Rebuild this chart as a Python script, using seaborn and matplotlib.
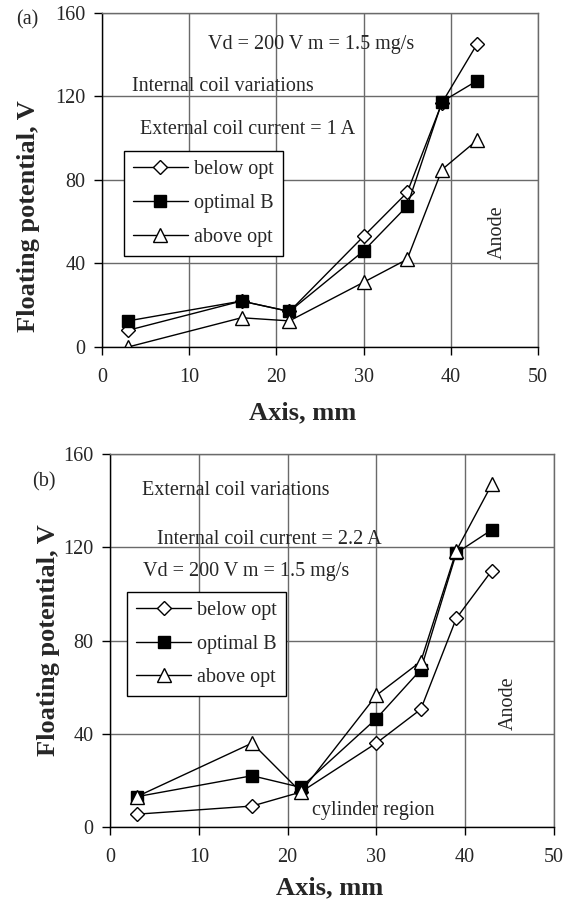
import matplotlib
matplotlib.use("Agg")
import matplotlib.pyplot as plt
import seaborn as sns
import numpy as np

# ---- data ----
axis_mm = [3, 16, 21.5, 30, 35, 39, 43]

a_below_opt = [8, 22, 17, 53, 74, 117, 145]
a_optimal_B = [12.5, 22, 17, 46, 67.5, 117.5, 127.5]
a_above_opt = [0, 14, 12.5, 31, 42, 85, 99]

b_below_opt = [5.5, 9, 15, 36, 50.5, 89.5, 110]
b_optimal_B = [13, 22, 17, 46.5, 67.5, 117.5, 127.5]
b_above_opt = [13, 36, 15, 56.5, 71, 118.5, 147]

series_labels = ["below opt", "optimal B", "above opt"]
x_ticks = [0, 10, 20, 30, 40, 50]
y_ticks = [0, 40, 80, 120, 160]

sns.set_style("white")
plt.rcParams["font.family"] = ["Liberation Serif", "DejaVu Serif"]
plt.rcParams["mathtext.default"] = "regular"

fig = plt.figure(figsize=(5.72, 9.01), dpi=100)
ax_a = fig.add_axes([0.1783, 0.6149, 0.7622, 0.3707])
ax_b = fig.add_axes([0.1923, 0.0821, 0.7762, 0.414])

styles = [
    dict(marker="D", markersize=7.5, markerfacecolor="white"),
    dict(marker="s", markersize=8.5, markerfacecolor="black"),
    dict(marker="^", markersize=10.5, markerfacecolor="white"),
]

TICK_FS = 14.5
LABEL_FS = 19
GRID = "#6a6a6a"


def draw(ax, ys, legend_anchor):
    for y, lab, st in zip(ys, series_labels, styles):
        sns.lineplot(x=axis_mm, y=y, ax=ax, color="black", linewidth=1.0,
                     markeredgecolor="black", markeredgewidth=1.0,
                     label=lab, **st)
    ax.set_xlim(0, 50)
    ax.set_ylim(0, 160)
    ax.set_xticks(x_ticks)
    ax.set_yticks(y_ticks)
    ax.grid(True, color=GRID, linewidth=1.0)
    ax.set_axisbelow(True)
    for side in ["top", "right"]:
        ax.spines[side].set_color(GRID)
        ax.spines[side].set_linewidth(1.0)
    for side in ["left", "bottom"]:
        ax.spines[side].set_color("black")
        ax.spines[side].set_linewidth(1.0)
    ax.tick_params(axis="both", direction="out", length=6, width=1.0,
                   color="black", labelsize=TICK_FS, pad=6,
                   bottom=True, left=True)
    ax.tick_params(axis="x", pad=9)
    ax.set_xlabel("")
    ax.set_ylabel("")
    leg = ax.legend(loc="upper left", bbox_to_anchor=legend_anchor,
                    borderaxespad=0, fontsize=TICK_FS, frameon=True,
                    fancybox=False, shadow=False, handlelength=2.7,
                    handletextpad=0.3, labelspacing=0.73, borderpad=0.45,
                    framealpha=1)
    leg.get_frame().set_edgecolor("black")
    leg.get_frame().set_linewidth(1.0)


draw(ax_a, [a_below_opt, a_optimal_B, a_above_opt], (0.051, 0.587))
draw(ax_b, [b_below_opt, b_optimal_B, b_above_opt], (0.039, 0.631))

# annotations (a)
ax_a.text(12.2, 144.7, "Vd = 200 V m = 1.5 mg/s", fontsize=TICK_FS, va="center", ha="left")
ax_a.text(3.4, 124.7, "Internal coil variations", fontsize=TICK_FS, va="center", ha="left")
ax_a.text(4.4, 104, "External coil current = 1 A", fontsize=TICK_FS, va="center", ha="left")
ax_a.text(45.3, 55, "Anode", fontsize=TICK_FS, va="center", ha="center", rotation=90)

# annotations (b)
ax_b.text(3.6, 144.3, "External coil variations", fontsize=TICK_FS, va="center", ha="left")
ax_b.text(5.25, 123.4, "Internal coil current = 2.2 A", fontsize=TICK_FS, va="center", ha="left")
ax_b.text(3.7, 109.8, "Vd = 200 V m = 1.5 mg/s", fontsize=TICK_FS, va="center", ha="left")
ax_b.text(44.8, 53, "Anode", fontsize=TICK_FS, va="center", ha="center", rotation=90)
ax_b.text(22.7, 6.9, "cylinder region", fontsize=TICK_FS, va="center", ha="left")

W, H = 572.0, 901.0


def fx(px):
    return px / W


def fy(py):
    return 1 - py / H


fig.text(fx(27), fy(20), "(a)", fontsize=TICK_FS, ha="center", va="center")
fig.text(fx(44), fy(482), "(b)", fontsize=TICK_FS, ha="center", va="center")
fig.text(fx(29), fy(216), "Floating potential, V", fontsize=LABEL_FS,
         fontweight="bold", rotation=90, ha="center", va="center")
fig.text(fx(49), fy(640), "Floating potential, V", fontsize=LABEL_FS,
         fontweight="bold", rotation=90, ha="center", va="center")
fig.text(fx(303), fy(413), "Axis, mm", fontsize=LABEL_FS, fontweight="bold",
         ha="center", va="center")
fig.text(fx(330), fy(888), "Axis, mm", fontsize=LABEL_FS, fontweight="bold",
         ha="center", va="center")

fig.savefig("out.png", dpi=100, facecolor="white")
